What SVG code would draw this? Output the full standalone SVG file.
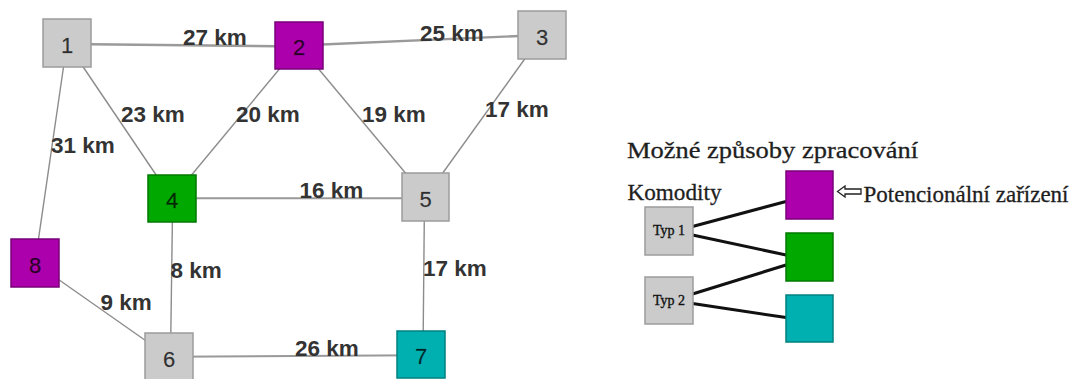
<svg xmlns="http://www.w3.org/2000/svg" width="1071" height="379" viewBox="0 0 1071 379">
<style>
.bg{fill:#ffffff}
.edge{stroke:#8c8c8c;stroke-width:1.4;fill:none}
.edge.thick{stroke:#9a9a9a;stroke-width:2.4}
.edge.mid{stroke:#999;stroke-width:2}
.lk{stroke:#111;stroke-width:3;fill:none}
.gray{fill:#cbcbcb;stroke:#9c9c9c;stroke-width:1.5}
.purple{fill:#ac00ac;stroke:#7a007a;stroke-width:1.5}
.green{fill:#00a800;stroke:#007a00;stroke-width:1.5}
.teal{fill:#00b0b0;stroke:#008080;stroke-width:1.5}
.nl{font-family:"Liberation Sans",Arial,sans-serif;font-size:22px;fill:#000;fill-opacity:0.75;stroke:#000;stroke-opacity:0.4;stroke-width:0.4;text-anchor:middle}
.el{font-family:"Liberation Sans",Arial,sans-serif;font-size:22.5px;font-weight:bold;fill:#333}
.lt{font-family:"Liberation Serif","Times New Roman",serif;fill:#1e1e1e;stroke:#1e1e1e;stroke-width:0.3}
.typ{font-family:"Liberation Serif","Times New Roman",serif;font-size:14px;fill:#111;stroke:#111;stroke-width:0.35;text-anchor:middle}
</style>
<rect class="bg" x="0" y="0" width="1071" height="379"/>
<g id="connectors">
  <line class="edge thick" x1="67" y1="44" x2="299" y2="46.5"/>
  <line class="edge thick" x1="299" y1="45.5" x2="542" y2="35"/>
  <line class="edge" x1="67" y1="43" x2="35" y2="263"/>
  <line class="edge" x1="67" y1="43" x2="172" y2="198.5"/>
  <line class="edge" x1="299" y1="45.5" x2="172" y2="198.5"/>
  <line class="edge" x1="299" y1="45.5" x2="425.5" y2="197"/>
  <line class="edge" x1="542" y1="35" x2="425.5" y2="197"/>
  <line class="edge mid" x1="172" y1="198.3" x2="425.5" y2="198.3"/>
  <line class="edge" x1="172.7" y1="198.5" x2="170.5" y2="357"/>
  <line class="edge" x1="424.5" y1="197" x2="423" y2="354.5"/>
  <line class="edge mid" x1="169" y1="356.7" x2="421" y2="355.2"/>
  <line class="edge" x1="35" y1="263" x2="169" y2="357"/>
</g>
<g id="edge-labels">
  <text class="el" x="183" y="45">27 km</text>
  <text class="el" x="420" y="40.5">25 km</text>
  <text class="el" x="121" y="121.5">23 km</text>
  <text class="el" x="236" y="122">20 km</text>
  <text class="el" x="362" y="122">19 km</text>
  <text class="el" x="485" y="116.5">17 km</text>
  <text class="el" x="51" y="153">31 km</text>
  <text class="el" x="299.5" y="198">16 km</text>
  <text class="el" x="170.5" y="278">8 km</text>
  <text class="el" x="100.5" y="310">9 km</text>
  <text class="el" x="423" y="275.5">17 km</text>
  <text class="el" x="295" y="355.5">26 km</text>
</g>
<g id="node1"><rect class="gray" x="43" y="19" width="48" height="48"/><text class="nl" x="67" y="52.5">1</text></g>
<g id="node2"><rect class="purple" x="275" y="22" width="48" height="47"/><text class="nl" x="299" y="54.5">2</text></g>
<g id="node3"><rect class="gray" x="518" y="11" width="48" height="48"/><text class="nl" x="542" y="44.5">3</text></g>
<g id="node4"><rect class="green" x="148" y="175" width="48" height="47"/><text class="nl" x="172" y="208">4</text></g>
<g id="node5"><rect class="gray" x="402" y="173" width="47" height="48"/><text class="nl" x="425.5" y="207">5</text></g>
<g id="node6"><rect class="gray" x="145" y="333" width="48" height="48"/><text class="nl" x="169" y="366.5">6</text></g>
<g id="node7"><rect class="teal" x="397" y="331" width="48" height="47"/><text class="nl" x="421" y="364">7</text></g>
<g id="node8"><rect class="purple" x="11" y="239" width="48" height="48"/><text class="nl" x="35" y="272.5">8</text></g>
<g id="legend">
  <text class="lt" x="627" y="157.5" font-size="24" textLength="291" lengthAdjust="spacingAndGlyphs">Možné způsoby zpracování</text>
  <text class="lt" x="627.5" y="199.5" font-size="23" textLength="94" lengthAdjust="spacingAndGlyphs">Komodity</text>
  <g id="legend-links">
    <line class="lk" x1="692.5" y1="226.5" x2="786" y2="201.5"/>
    <line class="lk" x1="692.5" y1="235" x2="786" y2="255"/>
    <line class="lk" x1="692.5" y1="294" x2="786" y2="265"/>
    <line class="lk" x1="692.5" y1="303.5" x2="786" y2="317.5"/>
  </g>
  <g id="typ1"><rect class="gray" x="645" y="207" width="48" height="48"/><text class="typ" x="669" y="235">Typ 1</text></g>
  <g id="typ2"><rect class="gray" x="645" y="277" width="48" height="47"/><text class="typ" x="669" y="305">Typ 2</text></g>
  <g id="fac-purple"><rect class="purple" x="786" y="171" width="47" height="48"/></g>
  <g id="fac-green"><rect class="green" x="786" y="233" width="47" height="48"/></g>
  <g id="fac-teal"><rect class="teal" x="786" y="295" width="47" height="47"/></g>
  <polygon points="837.5,191.5 845,186 845,189 861,189 861,194 845,194 845,197" fill="#fff" stroke="#222" stroke-width="1.3" stroke-linejoin="miter"/>
  <text class="lt" x="863.5" y="202" font-size="23" textLength="205" lengthAdjust="spacingAndGlyphs">Potencionální zařízení</text>
</g>
</svg>
